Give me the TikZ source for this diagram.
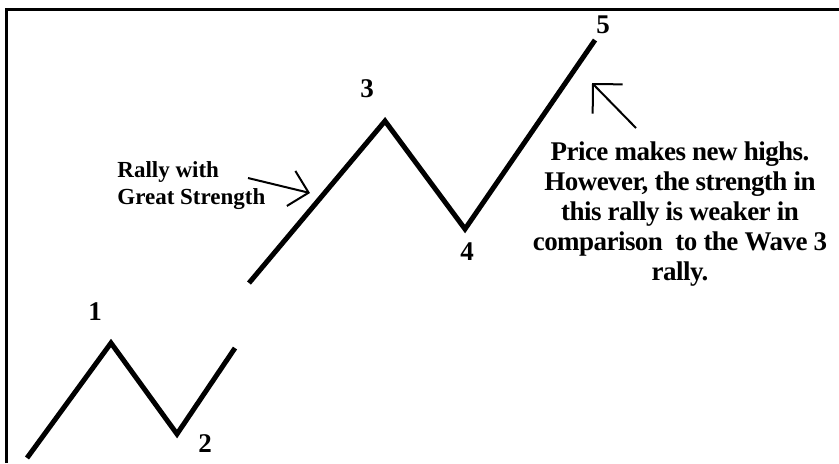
\documentclass[tikz,border=0pt]{standalone}
\usepackage{fontspec}
\setmainfont{Liberation Serif}
\newfontfamily\tightserif[LetterSpace=-2]{Liberation Serif}
\usetikzlibrary{arrows.meta}
\begin{document}
\begin{tikzpicture}[x=0.5pt,y=-0.5pt,
  wave/.style={line width=2.5pt,line join=miter},
  pointer/.style={line width=1pt},
  lbl/.style={font=\bfseries\fontsize{13.5}{15}\selectfont, inner sep=0pt}]
\useasboundingbox (0,0) rectangle (839,463);
\draw[line width=1.5pt] (6,463) -- (6,9.5) -- (839,9.5);

% waves 1 and 2
\coordinate (w0) at (27,458);
\coordinate (w1) at (111,343);
\coordinate (w2) at (177,434);
\coordinate (w3) at (235,348);
\draw[wave] (w0) -- (w1) -- (w2) -- (w3);

% waves 3, 4 and 5
\coordinate (v0) at (249,283);
\coordinate (v3) at (385,121);
\coordinate (v4) at (465,229);
\coordinate (v5) at (595,40);
\draw[wave] (v0) -- (v3) -- (v4) -- (v5);

\node[lbl] (n1) at (95,312) {1};
\node[lbl] (n2) at (205,444) {2};
\node[lbl] (n3) at (367,89) {3};
\node[lbl] (n4) at (467,252) {4};
\node[lbl] (n5) at (603,25) {5};

\node[lbl, align=left, anchor=west, font=\bfseries\fontsize{11.5}{13.5}\selectfont] (rally) at (117,186) {Rally with\\Great Strength};
\node[lbl, align=center, font=\tightserif\bfseries\fontsize{13.5}{15}\selectfont] (note) at (680,214) {Price makes new highs.\\However, the strength in\\this rally is weaker in\\comparison\ \ to the Wave 3\\rally.};

\coordinate (p1) at (248,178);
\coordinate (p1t) at (310,193);
\draw[pointer,-{Straight Barb[length=9pt,width=18pt]}] (p1) -- (p1t);
\coordinate (p2) at (636,128);
\coordinate (p2t) at (592,83);
\draw[pointer,-{Straight Barb[length=10.5pt,width=21pt]}] (p2) -- (p2t);
\end{tikzpicture}
\end{document}
